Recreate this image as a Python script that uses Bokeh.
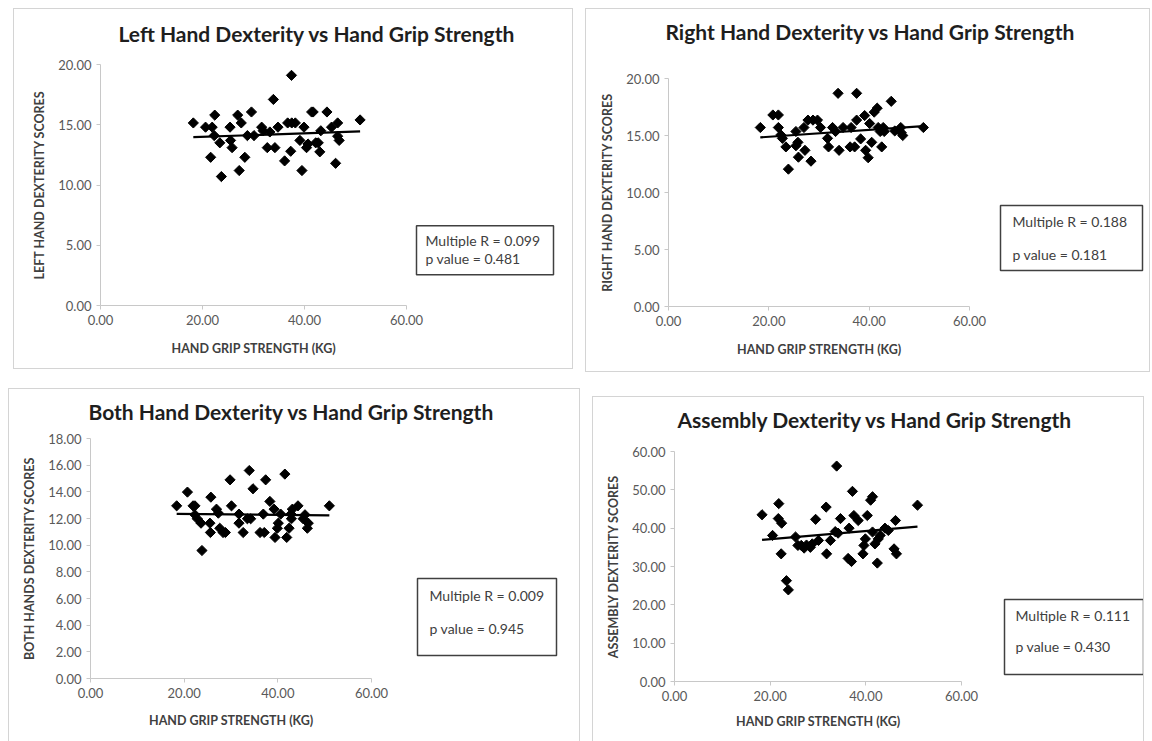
import numpy as np
from bokeh.plotting import figure
from bokeh.models import (Range1d, Label, BoxAnnotation, Spacer, FixedTicker,
                          NumeralTickFormatter, Title)
from bokeh.layouts import row, column
from bokeh.embed import file_html
from bokeh.resources import INLINE

# ---------------- data ----------------
x_ticks = [0, 20, 40, 60]

left_grip = [18.2, 20.6, 21.9, 22.4, 22.3, 23.4, 21.6, 23.7, 25.4, 25.5, 25.8, 26.9, 27.6, 27.2, 28.3,
             28.8, 29.6, 30.1, 31.6, 31.9, 32.7, 33.2, 33.9, 34.2, 34.8, 36.1, 36.7, 37.5, 38.2, 37.3,
             37.45, 39.1, 39.5, 39.9, 40.4, 40.7, 41.4, 41.7, 42.2, 42.7, 43.0, 43.2, 44.4, 45.3, 46.1,
             46.5, 46.5, 46.8, 50.9]
left_score = [15.15, 14.8, 14.8, 15.8, 14.1, 13.5, 12.3, 10.7, 14.8, 13.7, 13.1, 15.8, 15.15, 11.2, 12.3,
              14.1, 16.06, 14.1, 14.8, 14.5, 13.1, 14.4, 17.1, 13.1, 14.8, 12.0, 15.15, 15.15, 15.15, 12.8,
              19.1, 13.7, 11.2, 14.8, 13.1, 13.4, 16.06, 16.06, 13.5, 13.5, 12.75, 14.5, 16.06, 14.8, 11.8,
              15.15, 14.05, 13.7, 15.4]
left_ticks = [0, 5, 10, 15, 20]

right_grip = [18.3, 20.8, 21.9, 21.9, 22.4, 22.7, 23.4, 23.9, 25.4, 25.4, 25.8, 25.9, 27.0, 27.2, 27.8,
              28.4, 28.8, 29.7, 30.3, 31.7, 31.9, 32.7, 33.3, 33.8, 34.0, 34.8, 36.4, 36.2, 37.1, 37.5,
              37.5, 38.3, 39.1, 39.3, 39.8, 40.1, 40.5, 41.0, 41.6, 41.8, 42.2, 42.5, 42.8, 43.0, 44.4,
              45.1, 46.3, 46.4, 46.7, 50.8]
right_score = [15.7, 16.8, 16.8, 15.7, 15.05, 14.75, 14.0, 12.05, 15.35, 14.1, 14.4, 13.1, 15.7, 13.7, 16.35,
               12.75, 16.35, 16.35, 15.7, 14.75, 14.0, 15.7, 15.35, 18.7, 13.7, 15.7, 15.7, 14.0, 14.0, 18.7,
               16.35, 14.7, 16.75, 13.7, 13.05, 16.05, 14.4, 17.05, 17.4, 15.7, 15.35, 14.0, 15.7, 15.35, 18.0,
               15.4, 15.7, 15.25, 15.0, 15.7]
right_ticks = [0, 5, 10, 15, 20]

both_grip = [18.4, 20.7, 21.9, 22.3, 22.3, 22.8, 23.6, 23.8, 25.5, 25.7, 25.6, 26.9, 27.3, 27.6, 28.3,
             28.8, 29.8, 30.1, 31.7, 31.7, 32.6, 33.5, 33.9, 34.2, 34.7, 36.2, 36.9, 37.1, 37.4, 38.3,
             39.2, 39.4, 39.9, 40.1, 40.6, 41.5, 41.9, 42.4, 42.8, 42.9, 43.1, 44.3, 45.4, 45.8, 46.3,
             46.5, 51.0]
both_score = [12.95, 13.98, 12.95, 12.95, 12.28, 11.98, 11.65, 9.6, 11.65, 13.6, 10.95, 12.7, 12.4, 11.27, 10.95,
              10.95, 14.9, 12.95, 12.33, 11.65, 10.95, 11.98, 15.6, 11.98, 14.23, 10.95, 12.33, 10.95, 14.9, 13.28,
              12.7, 10.58, 11.27, 11.65, 12.33, 15.33, 10.58, 11.27, 12.33, 11.98, 12.7, 12.95, 11.98, 12.28, 11.27,
              11.65, 12.95]
both_ticks = [0, 2, 4, 6, 8, 10, 12, 14, 16, 18]

assembly_grip = [18.3, 20.5, 21.8, 21.7, 22.4, 22.3, 23.4, 23.8, 25.3, 25.8, 26.5, 27.1, 27.6, 28.4, 28.8,
                 29.5, 30.1, 31.7, 31.8, 32.6, 33.6, 33.9, 34.2, 34.7, 36.5, 36.3, 37.0, 37.2, 37.5, 38.4,
                 39.4, 39.6, 39.9, 40.3, 41.0, 41.4, 41.4, 41.9, 42.4, 42.6, 43.0, 44.0, 44.7, 45.9, 46.2,
                 46.4, 50.8]
assembly_score = [43.5, 38.1, 46.4, 42.5, 41.3, 33.3, 26.3, 23.9, 37.7, 35.5, 35.5, 34.8, 35.6, 35.0, 35.9,
                  42.3, 36.8, 45.5, 33.3, 36.8, 39.1, 56.2, 38.7, 42.5, 40.0, 32.1, 31.3, 49.6, 43.3, 42.0,
                  33.3, 35.5, 37.2, 43.3, 47.3, 48.2, 39.0, 35.9, 30.9, 37.2, 38.1, 40.0, 39.4, 34.6, 42.0,
                  33.3, 46.0]
assembly_ticks = [0, 10, 20, 30, 40, 50, 60]

titles = ["Left Hand Dexterity vs Hand Grip Strength",
          "Right Hand Dexterity vs Hand Grip Strength",
          "Both Hand Dexterity vs Hand Grip Strength",
          "Assembly Dexterity vs Hand Grip Strength"]
y_labels = ["LEFT HAND DEXTERITY SCORES", "RIGHT HAND DEXTERITY SCORES",
            "BOTH HANDS DEXTERITY SCORES", "ASSEMBLY DEXTERITY SCORES"]
x_label = "HAND GRIP STRENGTH (KG)"
multiple_r = ["0.099", "0.188", "0.009", "0.111"]
p_values = ["0.481", "0.181", "0.945", "0.430"]

FONT = "Lato"
XLABEL_W = 164  # approx. rendered width of the x-axis title (px)


def make_panel(grip, score, yticks, title, ylabel, r_txt, p_txt, g, bottom_cut=False):
    W, H, L, B, AX, AY = g["W"], g["H"], g["L"], g["B"], g["AX"], g["AY"]
    R = 1
    T = H - B - AY
    ymax = yticks[-1]
    fw = W - L - R
    xend = x_ticks[-1] * fw / AX

    def dx(px):
        return (px - L) * x_ticks[-1] / AX

    def dy(py):
        return (H - B - py) * ymax / AY

    p = figure(width=W, height=H, x_range=Range1d(0, xend), y_range=Range1d(0, ymax),
               output_backend="svg", toolbar_location=None, title=None,
               min_border_left=L, min_border_right=R, min_border_top=T, min_border_bottom=B)
    p.outline_line_color = None
    p.xgrid.visible = False
    p.ygrid.visible = False
    st = {"border": "1px solid #d4d4d4", "box-sizing": "border-box"}
    if bottom_cut:
        st["border-bottom"] = "none"
    p.styles = st

    for ax, ticks in ((p.xaxis[0], x_ticks), (p.yaxis[0], yticks)):
        ax.bounds = (ticks[0], ticks[-1])
        ax.ticker = FixedTicker(ticks=ticks)
        ax.formatter = NumeralTickFormatter(format="0.00")
        ax.axis_line_color = "#c8c8c8"
        ax.major_tick_line_color = "#c8c8c8"
        ax.major_tick_out = 4
        ax.major_tick_in = 0
        ax.minor_tick_line_color = None
        ax.major_label_text_font = FONT
        ax.major_label_text_font_size = "13px"
        ax.major_label_text_color = "#595959"
    p.yaxis.axis_label = ylabel
    p.yaxis.axis_label_text_font = FONT
    p.yaxis.axis_label_text_font_size = "12.5px"
    p.yaxis.axis_label_text_font_style = "bold"
    p.yaxis.axis_label_text_color = "#404040"
    p.yaxis.axis_label_standoff = 8

    p.scatter(grip, score, marker="square", angle=np.pi / 4, size=7.2,
              fill_color="black", line_color="black")

    gx = np.array(grip, dtype=float)
    sy = np.array(score, dtype=float)
    slope, icpt = np.polyfit(gx, sy, 1)
    lx = np.array([gx.min(), gx.max()])
    p.line(lx, icpt + slope * lx, line_color="black", line_width=2.2)

    # blank spacer between the title and the plot area (added first: closest to the frame)
    p.add_layout(Title(text=" ", text_font_size="1px", standoff=g["tgap"]), "above")
    # main title, left edge placed like the original
    p.add_layout(Title(text=title, align="left", offset=g["toff"], standoff=10,
                       text_font=FONT, text_font_size="21px", text_font_style="bold",
                       text_color="#1e1e1e"), "above")
    # x-axis title, centred on the axis extent (0..60)
    p.add_layout(Title(text=x_label, align="left", offset=AX / 2 - XLABEL_W / 2,
                       standoff=g["xstand"], vertical_align="top",
                       text_font=FONT, text_font_size="12.5px", text_font_style="bold",
                       text_color="#404040"), "below")

    bx0, by0, bx1, by1 = g["box"]
    p.add_layout(BoxAnnotation(left=dx(bx0), right=dx(bx1), top=dy(by0), bottom=dy(by1),
                               fill_color=None, fill_alpha=0, line_color="#404040",
                               line_alpha=1.0, line_width=1.5))
    for txt, ly in ((f"Multiple R = {r_txt}", g["l1"]), (f"p value = {p_txt}", g["l2"])):
        p.add_layout(Label(x=dx(g["lx"]), y=dy(ly), text=txt, text_align="left",
                           text_baseline="middle", text_font=FONT, text_font_size="14px",
                           text_color="#404040"))
    return p


geo = [
    dict(W=560, H=361, L=86, B=64, AX=306, AY=242, toff=18, tgap=11, xstand=26,
         box=(402, 217, 539, 266), lx=411, l1=232, l2=250),
    dict(W=565, H=364, L=82, B=67, AX=301, AY=228, toff=-3, tgap=27, xstand=26,
         box=(414, 196, 556, 261), lx=426, l1=212, l2=245),
    dict(W=572, H=353, L=81, B=64, AX=281, AY=240, toff=-2, tgap=7, xstand=24,
         box=(408, 189, 547, 266), lx=420, l1=206, l2=239),
    dict(W=552, H=345, L=81, B=61, AX=287, AY=230, toff=3, tgap=12, xstand=21,
         box=(411, 202, 550, 277), lx=422, l1=218, l2=249),
]

p1 = make_panel(left_grip, left_score, left_ticks, titles[0], y_labels[0], multiple_r[0], p_values[0], geo[0])
p2 = make_panel(right_grip, right_score, right_ticks, titles[1], y_labels[1], multiple_r[1], p_values[1], geo[1])
p3 = make_panel(both_grip, both_score, both_ticks, titles[2], y_labels[2], multiple_r[2], p_values[2], geo[2], True)
p4 = make_panel(assembly_grip, assembly_score, assembly_ticks, titles[3], y_labels[3], multiple_r[3], p_values[3], geo[3], True)

top = row(Spacer(width=5, height=10), column(p1), Spacer(width=12, height=10), column(p2))
bottom = row(column(p3), Spacer(width=12, height=10), column(Spacer(width=10, height=8), p4))
inner = column(top, Spacer(width=10, height=16), bottom)
layout = row(Spacer(width=8, height=10), column(Spacer(width=10, height=8), inner))

with open("out.html", "w") as f:
    f.write(file_html(layout, INLINE))
